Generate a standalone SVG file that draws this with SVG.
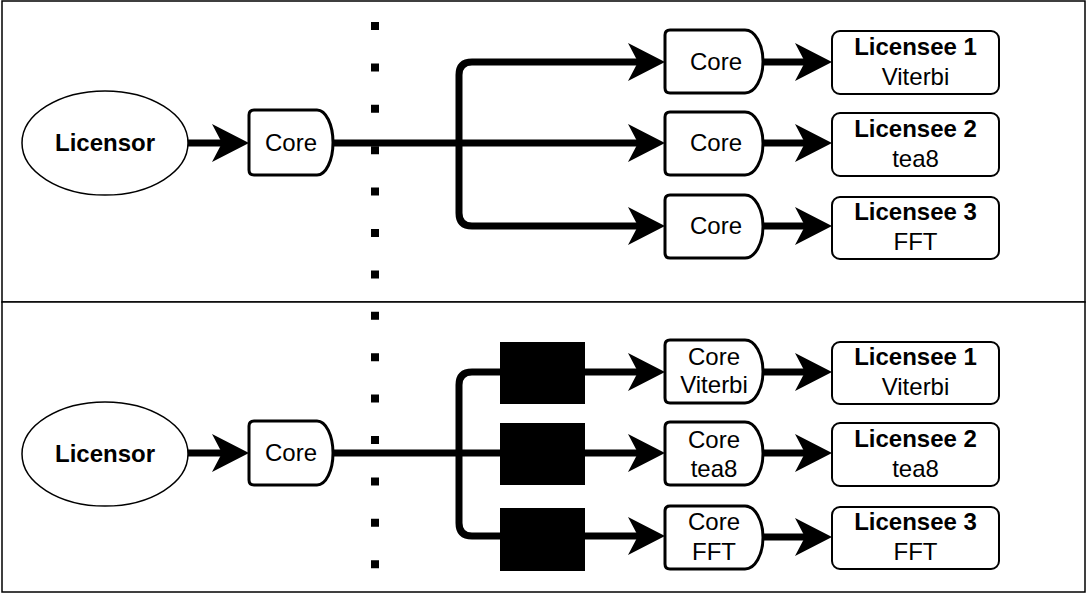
<svg xmlns="http://www.w3.org/2000/svg" width="1087" height="595" viewBox="0 0 1087 595">
<defs>
<style>
.frame{fill:#fff;stroke:#000;stroke-width:1.5}
.ell{fill:#fff;stroke:#000;stroke-width:1.5}
.core{fill:#fff;stroke:#000;stroke-width:3;stroke-linejoin:round}
.lic{fill:#fff;stroke:#000;stroke-width:2}
.blk{fill:#000}
.conn{fill:none;stroke:#000;stroke-width:7}
.dots{fill:none;stroke:#000;stroke-width:8;stroke-dasharray:8 33.4}
text{font-family:"Liberation Sans",Arial,Helvetica,sans-serif;font-size:24px;text-anchor:middle;fill:#000}
.b{font-weight:bold}
</style>
<marker id="arr" markerUnits="userSpaceOnUse" markerWidth="40" markerHeight="40" viewBox="0 -20 38 40" refX="17" refY="0" orient="auto" overflow="visible">
<path d="M0,-19 L37,0 L0,19 L10,0 Z" fill="#000"/>
</marker>
</defs>
<rect class="frame" x="2" y="1" width="1083" height="301"/>
<rect class="frame" x="2" y="302" width="1083" height="290"/>
<line class="dots" x1="375" y1="22" x2="375" y2="575"/>
<g id="connectors">
<path class="conn" d="M188,143 H229" marker-end="url(#arr)"/>
<path class="conn" d="M333,143 H645" marker-end="url(#arr)"/>
<path class="conn" d="M459,143 V75 Q459,62 472,62 H645" marker-end="url(#arr)"/>
<path class="conn" d="M459,143 V213 Q459,226 472,226 H645" marker-end="url(#arr)"/>
<path class="conn" d="M763,62 H812" marker-end="url(#arr)"/>
<path class="conn" d="M763,143 H812" marker-end="url(#arr)"/>
<path class="conn" d="M763,226 H812" marker-end="url(#arr)"/>
<path class="conn" d="M188,453 H229" marker-end="url(#arr)"/>
<path class="conn" d="M333,453 H645" marker-end="url(#arr)"/>
<path class="conn" d="M459,453 V385 Q459,372 472,372 H645" marker-end="url(#arr)"/>
<path class="conn" d="M459,453 V523 Q459,536 472,536 H645" marker-end="url(#arr)"/>
<path class="conn" d="M763,372 H812" marker-end="url(#arr)"/>
<path class="conn" d="M763,453 H812" marker-end="url(#arr)"/>
<path class="conn" d="M763,537 H812" marker-end="url(#arr)"/>
</g>
<g id="licensor-top"><ellipse class="ell" cx="105" cy="143" rx="83" ry="52"/><text class="b" x="105" y="151">Licensor</text></g>
<g id="core-top"><path class="core" d="M254,110 H317 A16,32.5 0 0 1 317,175 H254 Q249,175 249,170 V115 Q249,110 254,110 Z"/><text x="291" y="151">Core</text></g>
<g id="core-t1"><path class="core" d="M670,30 H745 A18,31.5 0 0 1 745,93 H670 Q665,93 665,88 V35 Q665,30 670,30 Z"/><text x="716" y="70">Core</text></g>
<g id="core-t2"><path class="core" d="M670,112 H745 A18,31.5 0 0 1 745,175 H670 Q665,175 665,170 V117 Q665,112 670,112 Z"/><text x="716" y="151">Core</text></g>
<g id="core-t3"><path class="core" d="M670,195 H745 A18,31.5 0 0 1 745,258 H670 Q665,258 665,253 V200 Q665,195 670,195 Z"/><text x="716" y="234">Core</text></g>
<g id="lic-t1"><rect class="lic" x="832" y="31" width="167" height="63" rx="8"/><text class="b" x="915.5" y="55">Licensee 1</text><text x="915.5" y="85">Viterbi</text></g>
<g id="lic-t2"><rect class="lic" x="832" y="113" width="167" height="63" rx="8"/><text class="b" x="915.5" y="137">Licensee 2</text><text x="915.5" y="167">tea8</text></g>
<g id="lic-t3"><rect class="lic" x="832" y="197" width="167" height="62" rx="8"/><text class="b" x="915.5" y="220">Licensee 3</text><text x="915.5" y="250">FFT</text></g>
<g id="licensor-bottom"><ellipse class="ell" cx="105" cy="454" rx="83" ry="52"/><text class="b" x="105" y="462">Licensor</text></g>
<g id="core-bottom"><path class="core" d="M254,421 H317 A16,32 0 0 1 317,485 H254 Q249,485 249,480 V426 Q249,421 254,421 Z"/><text x="291" y="461">Core</text></g>
<g id="blk-1"><rect class="blk" x="500" y="342" width="85" height="62"/></g>
<g id="blk-2"><rect class="blk" x="500" y="423" width="85" height="62"/></g>
<g id="blk-3"><rect class="blk" x="500" y="508" width="85" height="63"/></g>
<g id="core-b1"><path class="core" d="M670,340 H745 A18,31.5 0 0 1 745,403 H670 Q665,403 665,398 V345 Q665,340 670,340 Z"/><text x="714" y="365">Core</text><text x="714" y="393">Viterbi</text></g>
<g id="core-b2"><path class="core" d="M670,422 H745 A18,31.5 0 0 1 745,485 H670 Q665,485 665,480 V427 Q665,422 670,422 Z"/><text x="714" y="448">Core</text><text x="714" y="477">tea8</text></g>
<g id="core-b3"><path class="core" d="M670,506 H745 A18,31.5 0 0 1 745,569 H670 Q665,569 665,564 V511 Q665,506 670,506 Z"/><text x="714" y="530">Core</text><text x="714" y="560">FFT</text></g>
<g id="lic-b1"><rect class="lic" x="832" y="342" width="167" height="62" rx="8"/><text class="b" x="915.5" y="365">Licensee 1</text><text x="915.5" y="395">Viterbi</text></g>
<g id="lic-b2"><rect class="lic" x="832" y="423" width="167" height="63" rx="8"/><text class="b" x="915.5" y="447">Licensee 2</text><text x="915.5" y="477">tea8</text></g>
<g id="lic-b3"><rect class="lic" x="832" y="507" width="167" height="62" rx="8"/><text class="b" x="915.5" y="530">Licensee 3</text><text x="915.5" y="560">FFT</text></g>
</svg>
